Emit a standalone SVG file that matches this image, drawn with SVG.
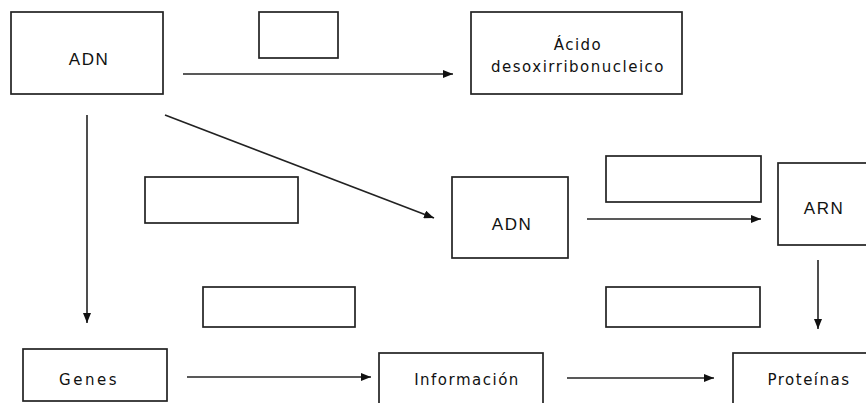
<svg xmlns="http://www.w3.org/2000/svg" width="866" height="403" viewBox="0 0 866 403">
<style>
.box{fill:#fff;stroke:#222;stroke-width:1.7}
.lbl{font-family:"DejaVu Sans","Liberation Sans",sans-serif;font-size:15px;fill:#111;text-anchor:middle;letter-spacing:1.5px}
.lbl2{font-family:"Liberation Sans",Arial,sans-serif;font-size:17px;fill:#111;text-anchor:middle;letter-spacing:1.5px}
.conn{stroke:#222;stroke-width:1.6;fill:none;marker-end:url(#ah)}
</style>
<defs>
<marker id="ah" viewBox="0 0 10 8" refX="10" refY="4" markerWidth="10" markerHeight="8" markerUnits="userSpaceOnUse" orient="auto">
<path d="M0,0 L10,4 L0,8 Z" fill="#111"/>
</marker>
</defs>
<rect width="866" height="403" fill="#fff"/>
<g id="n-adn1"><rect class="box" x="11" y="12" width="152" height="82"/><text class="lbl2" x="89" y="65">ADN</text></g>
<g id="n-empty1"><rect class="box" x="259" y="12" width="79" height="46"/></g>
<g id="n-acido"><rect class="box" x="471" y="12" width="211" height="82"/><text class="lbl" x="578" y="50">Ácido</text><text class="lbl" x="578" y="72">desoxirribonucleico</text></g>
<g id="n-empty2"><rect class="box" x="145" y="177" width="153" height="46"/></g>
<g id="n-adn2"><rect class="box" x="452" y="177" width="116" height="81"/><text class="lbl2" x="512" y="230">ADN</text></g>
<g id="n-empty3"><rect class="box" x="606" y="156" width="155" height="46"/></g>
<g id="n-arn"><rect class="box" x="778" y="163" width="92" height="82"/><text class="lbl2" x="824" y="214">ARN</text></g>
<g id="n-empty4"><rect class="box" x="203" y="287" width="152" height="40"/></g>
<g id="n-empty5"><rect class="box" x="606" y="287" width="154" height="40"/></g>
<g id="n-genes"><rect class="box" x="23" y="349" width="144" height="52"/><text class="lbl" x="89" y="385" style="letter-spacing:2.5px">Genes</text></g>
<g id="n-info"><rect class="box" x="379" y="353" width="164" height="56"/><text class="lbl" x="467" y="385">Información</text></g>
<g id="n-prot"><rect class="box" x="733" y="353" width="140" height="56"/><text class="lbl" x="809" y="385">Proteínas</text></g>
<g id="connectors">
<line class="conn" x1="183" y1="74" x2="453" y2="74"/>
<line class="conn" x1="165" y1="115" x2="434" y2="218"/>
<line class="conn" x1="87" y1="115" x2="87" y2="323"/>
<line class="conn" x1="587" y1="219" x2="761" y2="219"/>
<line class="conn" x1="818" y1="260" x2="818" y2="329"/>
<line class="conn" x1="187" y1="377" x2="371" y2="377"/>
<line class="conn" x1="567" y1="378" x2="714" y2="378"/>
</g>
</svg>
